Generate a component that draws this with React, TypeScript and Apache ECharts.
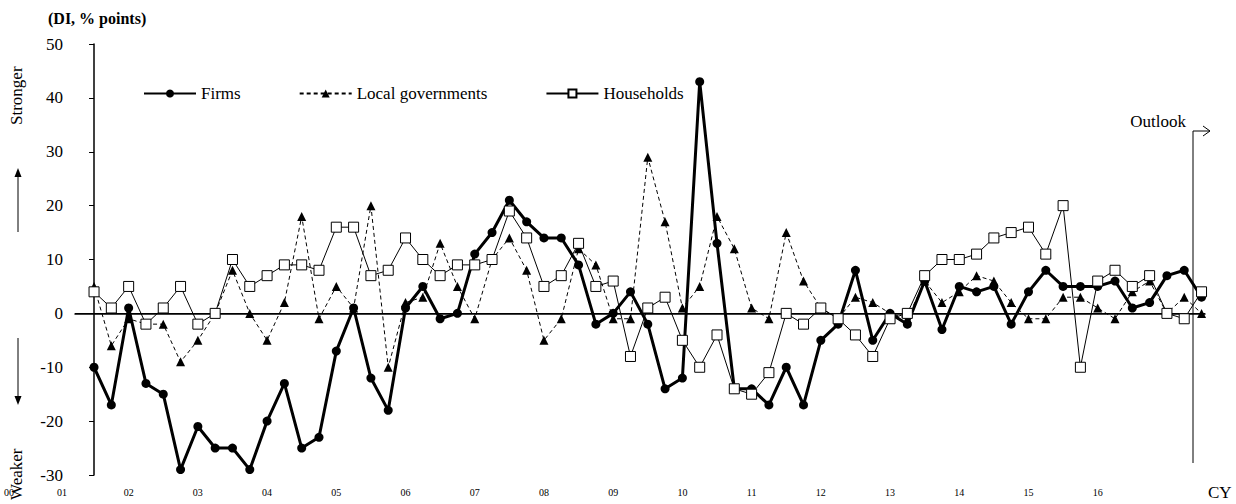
import React, { useEffect, useRef } from 'react';
import * as echarts from 'echarts';

// quarterly DI, 65 points
const firms = [
    -10, -17, 1, -13, -15, -29, -21, -25, -25, -29, -20, -13, -25, -23, -7, 1,
    -12, -18, 1, 5, -1, 0, 11, 15, 21, 17, 14, 14, 9, -2, 0, 4,
    -2, -14, -12, 43, 13, -14, -14, -17, -10, -17, -5, -2, 8, -5, 0, -2,
    6, -3, 5, 4, 5, -2, 4, 8, 5, 5, 5, 6, 1, 2, 7, 8, 3,
];
const localGov = [
    5, -6, -1, -2, -2, -9, -5, 0, 8, 0, -5, 2, 18, -1, 5, 1,
    20, -10, 2, 3, 13, 5, -1, 10, 14, 8, -5, -1, 12, 9, -1, -1,
    29, 17, 1, 5, 18, 12, 1, -1, 15, 6, 1, -1, 3, 2, 0, -1,
    6, 2, 4, 7, 6, 2, -1, -1, 3, 3, 1, -1, 4, 6, 0, 3, 0,
];
const households = [
    4, 1, 5, -2, 1, 5, -2, 0, 10, 5, 7, 9, 9, 8, 16, 16,
    7, 8, 14, 10, 7, 9, 9, 10, 19, 14, 5, 7, 13, 5, 6, -8,
    1, 3, -5, -10, -4, -14, -15, -11, 0, -2, 1, -1, -4, -8, -1, 0,
    7, 10, 10, 11, 14, 15, 16, 11, 20, -10, 6, 8, 5, 7, 0, -1, 4,
];
const yearTicks = [2, 6, 10, 14, 18, 22, 26, 30, 34, 38, 42, 46, 50, 54, 58];

const toPairs = (arr: number[]) => arr.map((v, i) => [i, v]);
const serif = 'Liberation Serif';
const txt = (text: string, size: number, extra: Record<string, unknown> = {}) => ({
    text,
    fontFamily: serif,
    fontSize: size,
    fill: '#000',
    ...extra,
});
const richFont = (size: number) => ({ s: { fontFamily: serif, fontSize: size, color: '#000' } });

const App: React.FC = () => {
    const chartRef = useRef<HTMLDivElement>(null);

    useEffect(() => {
        if (!chartRef.current) return;
        document.body.style.margin = '0';
        const chart = echarts.init(chartRef.current, undefined, { renderer: 'svg' });

        chart.setOption({
            animation: false,
            grid: { left: 75, right: 31, top: 44, bottom: 29 },
            legend: {
                left: 138,
                top: 80,
                itemWidth: 52,
                itemHeight: 10,
                itemGap: 58,
                formatter: (name: string) => `{s|${name}}`,
                textStyle: { fontFamily: serif, fontSize: 17, color: '#000', rich: richFont(17) },
                data: ['Firms', 'Local governments', 'Households'],
            },
            xAxis: {
                type: 'value',
                min: -1.1,
                max: 64.2,
                axisLine: { lineStyle: { color: '#000', width: 1.5 } },
                axisTick: { show: false },
                splitLine: { show: false },
                axisLabel: {
                    customValues: yearTicks,
                    fontSize: 10,
                    color: '#000',
                    fontFamily: serif,
                    margin: 12,
                    rich: richFont(10),
                    formatter: (v: number) => `{s|${String((v - 2) / 4 + 2).padStart(2, '0')}}`,
                },
            },
            yAxis: {
                type: 'value',
                min: -30,
                max: 50,
                interval: 10,
                axisLine: { show: true, lineStyle: { color: '#000', width: 1.5 } },
                axisTick: { show: true, length: 5, lineStyle: { color: '#000' } },
                splitLine: { show: false },
                axisLabel: {
                    fontSize: 17,
                    color: '#000',
                    fontFamily: serif,
                    margin: 12,
                    rich: richFont(17),
                    formatter: (v: number) => `{s|${v}}`,
                },
            },
            series: [
                {
                    name: 'Firms',
                    type: 'line',
                    data: toPairs(firms),
                    symbol: 'circle',
                    symbolSize: 9,
                    lineStyle: { color: '#000', width: 3 },
                    itemStyle: { color: '#000' },
                    z: 4,
                    markLine: {
                        silent: true,
                        symbol: 'none',
                        label: { show: false },
                        lineStyle: { color: '#000', width: 1, type: 'solid' },
                        data: [{ yAxis: 0 }],
                    },
                },
                {
                    name: 'Local governments',
                    type: 'line',
                    data: toPairs(localGov),
                    symbol: 'triangle',
                    symbolSize: 9,
                    lineStyle: { color: '#000', width: 1, type: [4, 3] },
                    itemStyle: { color: '#000' },
                    z: 3,
                },
                {
                    name: 'Households',
                    type: 'line',
                    data: toPairs(households),
                    symbol: 'rect',
                    symbolSize: 10,
                    lineStyle: { color: '#000', width: 1 },
                    itemStyle: { color: '#fff', borderColor: '#000', borderWidth: 1 },
                    z: 5,
                },
            ],
            graphic: [
                { type: 'text', x: 48, y: 10, style: txt('(DI, % points)', 16, { fontWeight: 'bold' }) },
                { type: 'text', x: 4, y: 492, style: txt('00', 10, { verticalAlign: 'middle' }) },
                { type: 'text', x: 57, y: 492, style: txt('01', 10, { verticalAlign: 'middle' }) },
                { type: 'text', x: 1208, y: 492, style: txt('CY', 17, { verticalAlign: 'middle' }) },
                { type: 'text', x: 8, y: 125, rotation: Math.PI / 2, style: txt('Stronger', 17) },
                { type: 'text', x: 8, y: 500, rotation: Math.PI / 2, style: txt('Weaker', 17) },
                { type: 'line', shape: { x1: 18, y1: 232, x2: 18, y2: 176 }, style: { stroke: '#000', lineWidth: 1 } },
                { type: 'polygon', shape: { points: [[18, 168], [14.5, 177], [21.5, 177]] }, style: { fill: '#000' } },
                { type: 'line', shape: { x1: 18, y1: 338, x2: 18, y2: 398 }, style: { stroke: '#000', lineWidth: 1 } },
                { type: 'polygon', shape: { points: [[18, 405], [14.5, 396], [21.5, 396]] }, style: { fill: '#000' } },
                { type: 'text', x: 1186, y: 113, style: txt('Outlook', 17, { align: 'right' }) },
                { type: 'polyline', shape: { points: [[1193, 463], [1193, 131], [1210, 131]] }, style: { stroke: '#000', lineWidth: 1, fill: null } },
                { type: 'polyline', shape: { points: [[1203, 126], [1210, 131], [1203, 136]] }, style: { stroke: '#000', lineWidth: 1, fill: null } },
            ],
        });

        return () => chart.dispose();
    }, []);

    return <div ref={chartRef} style={{ width: 1236, height: 504 }} />;
};

export default App;
